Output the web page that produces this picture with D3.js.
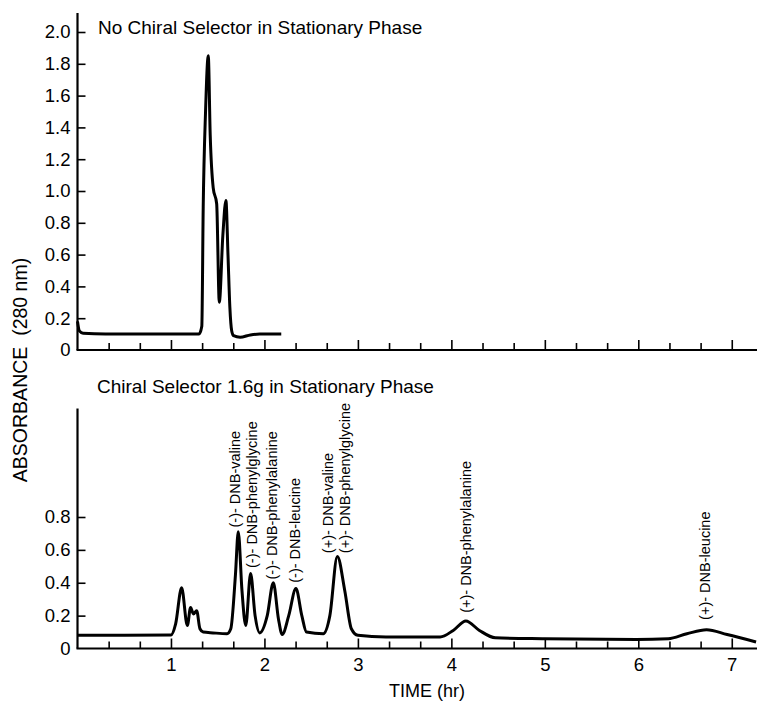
<!DOCTYPE html>
<html lang="en">
<head>
<meta charset="UTF-8">
<title>Chiral separation chromatograms</title>
<script src="https://d3js.org/d3.v7.min.js"></script>
<style>
  body { margin: 0; background: #fff; }
  svg { display: block; font-family: 'Liberation Sans', Arial, Helvetica, sans-serif; }
  .tick line, .axis-line { stroke: #000; }
  .tick text { fill: #000; }
</style>
</head>
<body>
<svg id="chart" width="757" height="704"></svg>
<script>
// ---- data (time in hr, absorbance at 280 nm) ----
const topTime = [0, 0.02, 0.06, 0.3, 0.8, 1.3, 1.33, 1.345, 1.37, 1.399, 1.42, 1.452, 1.489, 1.517, 1.555, 1.588, 1.61, 1.63, 1.65, 1.67, 1.74, 1.85, 1.95, 2.18];
const topAbs  = [0.18, 0.12, 0.105, 0.1, 0.1, 0.1, 0.15, 0.9, 1.5, 1.85, 1.35, 1.02, 0.92, 0.30, 0.72, 0.94, 0.6, 0.27, 0.12, 0.09, 0.08, 0.095, 0.1, 0.1];

const botTime = [0, 0.5, 1.0, 1.05, 1.114, 1.175, 1.21, 1.24, 1.275, 1.31, 1.345, 1.45, 1.6, 1.64, 1.69, 1.72, 1.76, 1.80, 1.852, 1.9, 1.95, 2.03, 2.095, 2.15, 2.19, 2.26, 2.337, 2.4, 2.45, 2.63, 2.7, 2.78, 2.86, 2.93, 3.0, 3.3, 3.88, 4.02, 4.155, 4.3, 4.47, 5.0, 5.98, 6.32, 6.52, 6.73, 6.95, 7.26];
const botAbs  = [0.08, 0.08, 0.082, 0.15, 0.37, 0.14, 0.25, 0.21, 0.23, 0.12, 0.10, 0.095, 0.09, 0.12, 0.45, 0.71, 0.35, 0.14, 0.456, 0.2, 0.095, 0.2, 0.40, 0.18, 0.085, 0.2, 0.365, 0.2, 0.10, 0.09, 0.2, 0.56, 0.35, 0.12, 0.08, 0.07, 0.07, 0.11, 0.167, 0.11, 0.065, 0.06, 0.055, 0.06, 0.09, 0.114, 0.085, 0.04];

const peakNames = ["(-)- DNB-valine", "(-)- DNB-phenylglycine", "(-)- DNB-phenylalanine", "(-)- DNB-leucine",
                   "(+)- DNB-valine", "(+)- DNB-phenylglycine", "(+)- DNB-phenylalanine", "(+)- DNB-leucine"];
const peakLabelTime = [1.685, 1.863, 2.077, 2.326, 2.68, 2.86, 4.16, 6.71];
const peakLabelAbs  = [0.736, 0.49, 0.42, 0.40, 0.58, 0.58, 0.217, 0.174];

const topTicks = [0, 0.2, 0.4, 0.6, 0.8, 1.0, 1.2, 1.4, 1.6, 1.8, 2.0];
const botTicks = [0, 0.2, 0.4, 0.6, 0.8];
const timeLabels = [1, 2, 3, 4, 5, 6, 7];
const timeMinor = d3.range(0, 23).map(i => i / 3);

const topTitle = "No Chiral Selector in Stationary Phase";
const botTitle = "Chiral Selector 1.6g in Stationary Phase";

// ---- layout ----
const svg = d3.select("#chart");
const x = d3.scaleLinear().domain([0, 7.27]).range([77.5, 757]);
const yTop = d3.scaleLinear().domain([0, 2]).range([350, 32]);
const yBot = d3.scaleLinear().domain([0, 0.8]).range([648.5, 517]);

const fmt = d => d === 0 ? "0" : d3.format(".1f")(d);

function drawPanel(y, ticks, axisTopVal) {
  // y axis: ticks point inward, labels on the left
  const ya = svg.append("g")
    .attr("transform", `translate(${x(0)},0)`)
    .call(d3.axisLeft(y).tickValues(ticks).tickFormat(fmt)
      .tickSizeInner(-8).tickSizeOuter(0).tickPadding(7));
  ya.select(".domain").remove();
  ya.selectAll(".tick line").attr("stroke-width", 1.6);
  ya.selectAll(".tick text").style("font-size", "18.5px");
  ya.selectAll(".tick").filter(d => d === 0).select("line").remove();

  svg.append("line").attr("class", "axis-line")
    .attr("x1", x(0)).attr("x2", x(0))
    .attr("y1", y(0)).attr("y2", y(axisTopVal))
    .attr("stroke-width", 2.2);

  // time axis: minor and major ticks point up
  const minor = svg.append("g")
    .attr("transform", `translate(0,${y(0)})`)
    .call(d3.axisTop(x).tickValues(timeMinor.filter(t => t % 1 !== 0 && t > 0)).tickFormat("").tickSizeOuter(0).tickSize(7));
  minor.select(".domain").remove();
  minor.selectAll(".tick line").attr("stroke-width", 1.6);
  const major = svg.append("g")
    .attr("transform", `translate(0,${y(0)})`)
    .call(d3.axisTop(x).tickValues(timeLabels).tickFormat("").tickSizeOuter(0).tickSize(10));
  major.select(".domain").remove();
  major.selectAll(".tick line").attr("stroke-width", 1.6);

  svg.append("line").attr("class", "axis-line")
    .attr("x1", x(0) - 1).attr("x2", 757)
    .attr("y1", y(0)).attr("y2", y(0))
    .attr("stroke-width", 2.2);
}

drawPanel(yTop, topTicks, 2.12);
drawPanel(yBot, botTicks, 1.46);

// time labels under the bottom panel
const tl = svg.append("g")
  .attr("transform", `translate(0,${yBot(0)})`)
  .call(d3.axisBottom(x).tickValues(timeLabels).tickFormat(d3.format("d")).tickSize(0).tickPadding(9));
tl.select(".domain").remove();
tl.selectAll(".tick text").style("font-size", "18.5px");

// traces
const line = (ys, ts, vs) => d3.line()
  .x(i => x(ts[i])).y(i => ys(vs[i]))
  .curve(d3.curveMonotoneX)(d3.range(ts.length));

svg.append("path").attr("d", line(yTop, topTime, topAbs))
  .attr("fill", "none").attr("stroke", "#000").attr("stroke-width", 3)
  .attr("stroke-linejoin", "round");
svg.append("path").attr("d", line(yBot, botTime, botAbs))
  .attr("fill", "none").attr("stroke", "#000").attr("stroke-width", 3)
  .attr("stroke-linejoin", "round");

// peak labels (vertical)
svg.append("g").selectAll("text")
  .data(peakNames)
  .join("text")
  .attr("transform", (d, i) => `translate(${x(peakLabelTime[i]) + 5},${yBot(peakLabelAbs[i])}) rotate(-90)`)
  .attr("text-anchor", "start")
  .style("font-size", "14.5px")
  .text(d => d);

// titles
svg.append("text").attr("x", 98).attr("y", 33.5).style("font-size", "19px").text(topTitle);
svg.append("text").attr("x", 97).attr("y", 393).style("font-size", "19px").text(botTitle);

// axis titles
svg.append("text")
  .attr("transform", "translate(27,370) rotate(-90)")
  .attr("text-anchor", "middle")
  .attr("xml:space", "preserve")
  .style("font-size", "19.5px")
  .text("ABSORBANCE  (280 nm)");
svg.append("text")
  .attr("x", 427).attr("y", 697)
  .attr("text-anchor", "middle")
  .style("font-size", "18px")
  .text("TIME (hr)");
</script>
</body>
</html>
